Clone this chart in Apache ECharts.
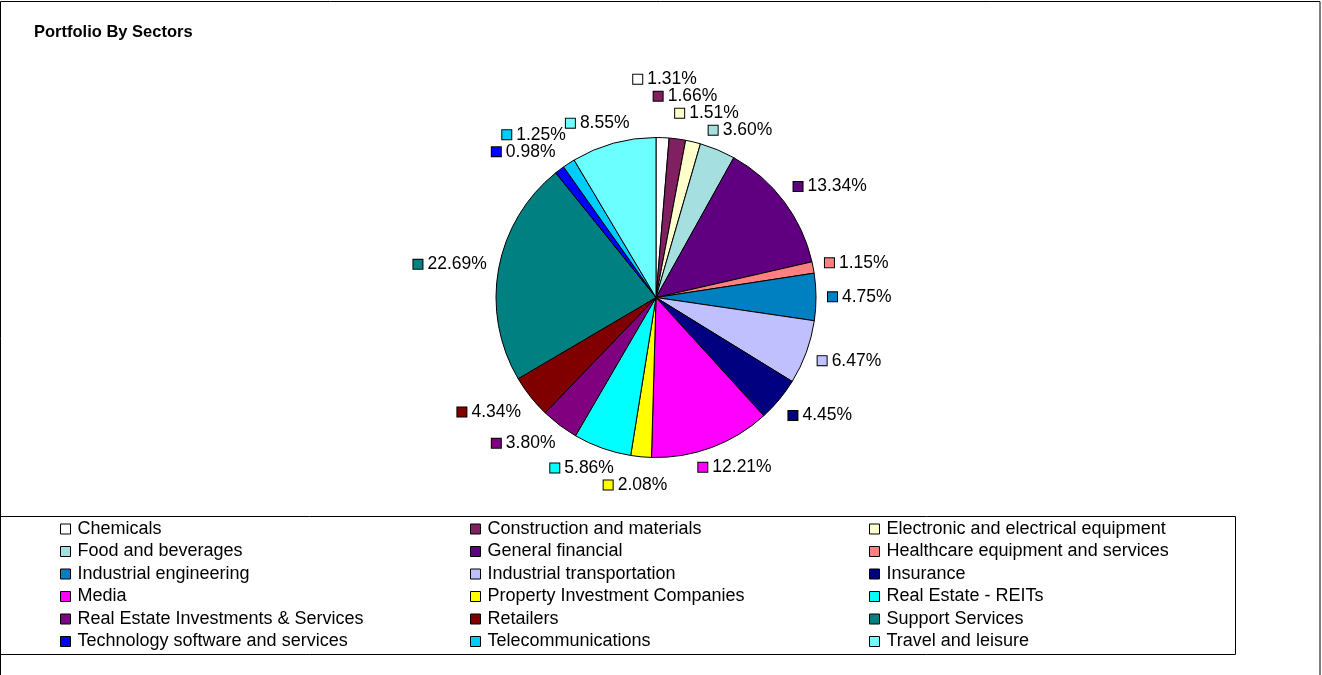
<!DOCTYPE html>
<html><head><meta charset="utf-8">
<script src="https://cdn.jsdelivr.net/npm/echarts@6/dist/echarts.min.js"></script>
<style>html,body{margin:0;padding:0;background:#fff}#c{width:1322px;height:675px}</style>
</head><body><div id="c"></div>
<script>
const chartTitle = 'Portfolio By Sectors';
const categories = [
  'Chemicals', 'Construction and materials', 'Electronic and electrical equipment',
  'Food and beverages', 'General financial', 'Healthcare equipment and services',
  'Industrial engineering', 'Industrial transportation', 'Insurance',
  'Media', 'Property Investment Companies', 'Real Estate - REITs',
  'Real Estate Investments & Services', 'Retailers', 'Support Services',
  'Technology software and services', 'Telecommunications', 'Travel and leisure'
];
const values = [1.31, 1.66, 1.51, 3.60, 13.34, 1.15, 4.75, 6.47, 4.45, 12.21, 2.08, 5.86, 3.80, 4.34, 22.69, 0.98, 1.25, 8.55];
const colors = [
  '#FFFFFF', '#802060', '#FFFFCC', '#A6DFDF', '#600080', '#FF8080',
  '#0080C0', '#C0C0FF', '#000080', '#FF00FF', '#FFFF00', '#00FFFF',
  '#800080', '#800000', '#008080', '#0000FF', '#00CCFF', '#6CFFFF'
];

const FONT = '"Liberation Sans", Arial, sans-serif';
const CX = 656, CY = 297.5, R = 160;
const LABEL_FONT = 17.5, BOX = 9, BOX_GAP = 5, LABEL_GAP = 12;
const labelText = v => v.toFixed(2) + '%';

// label placement (Excel-like "outside end" with simple overlap resolution)
const ctx = document.createElement('canvas').getContext('2d');
ctx.font = LABEL_FONT + 'px ' + FONT;
const total = values.reduce((a, b) => a + b, 0);
const clamp = t => Math.max(-1, Math.min(1, t));
let acc = 0;
const boxes = values.map(v => {
  const mid = (acc + v / 2) / total * 2 * Math.PI; acc += v;
  const dx = Math.sin(mid), dy = -Math.cos(mid);
  const w = BOX + BOX_GAP + ctx.measureText(labelText(v)).width;
  const h = 17;
  return { w, h,
    x: CX + (R + LABEL_GAP) * dx + clamp(1.5 * dx) * w / 2,
    y: CY + (R + LABEL_GAP) * dy + clamp(1.5 * dy) * h / 2 };
});
for (let iter = 0; iter < 60; iter++) {
  let moved = false;
  for (let i = 0; i < boxes.length; i++) for (let j = i + 1; j < boxes.length; j++) {
    const a = boxes[i], b = boxes[j];
    const ox = (a.w + b.w) / 2 - Math.abs(a.x - b.x);
    const oy = (a.h + b.h) / 2 - Math.abs(a.y - b.y);
    if (ox > 0.5 && oy > 0.5) {
      moved = true;
      if (ox < oy) {
        const m = Math.abs(a.x - CX) > Math.abs(b.x - CX) ? a : b;
        m.x += (m.x > CX ? 1 : -1) * ox;
      } else {
        const top = (a.y + b.y) / 2 < CY;
        const m = top ? (a.y < b.y ? a : b) : (a.y > b.y ? a : b);
        m.y += (top ? -1 : 1) * oy;
      }
    }
  }
  if (!moved) break;
}

const chart = echarts.init(document.getElementById('c'), null, { renderer: 'canvas' });
chart.setOption({
  animation: false,
  backgroundColor: '#fff',
  title: {
    text: chartTitle, left: 34, top: 24, padding: 0,
    textStyle: { fontSize: 16.5, fontWeight: 'bold', fontFamily: FONT, color: '#000' }
  },
  legend: [0, 1, 2].map(c => ({
    orient: 'vertical', left: [60, 470, 869][c], top: 518, padding: 0,
    itemGap: 0.5, itemWidth: 10, itemHeight: 10, icon: 'rect', selectedMode: false,
    data: categories.filter((_, i) => i % 3 === c),
    itemStyle: { borderColor: '#000', borderWidth: 1 },
    textStyle: { fontSize: 18, fontFamily: FONT, color: '#000', lineHeight: 22, padding: [0, 0, 0, 2] }
  })),
  graphic: [
    { type: 'rect', silent: true, z: 100, shape: { x: 0.5, y: 1.5, width: 1319.5, height: 700 },
      style: { fill: 'none', stroke: '#000', lineWidth: 1 } },
    { type: 'rect', silent: true, z: 100, shape: { x: 0.5, y: 516.5, width: 1235, height: 138 },
      style: { fill: 'none', stroke: '#000', lineWidth: 1 } }
  ],
  series: [{
    type: 'pie', center: [CX, CY], radius: R, startAngle: 90, clockwise: true,
    avoidLabelOverlap: false, silent: true,
    itemStyle: { borderColor: '#000', borderWidth: 1 },
    labelLine: { show: false },
    label: { show: true, position: 'outside', formatter: p => '{box|}{t|' + labelText(p.value) + '}' },
    data: categories.map((n, i) => ({
      name: n, value: values[i], itemStyle: { color: colors[i] },
      label: { rich: {
        box: { width: BOX, height: BOX, backgroundColor: colors[i], borderColor: '#000', borderWidth: 1 },
        t: { fontSize: LABEL_FONT, fontFamily: FONT, color: '#000', padding: [0, 0, 0, BOX_GAP] }
      } }
    })),
    labelLayout: p => ({ x: boxes[p.dataIndex].x, y: boxes[p.dataIndex].y, align: 'center', verticalAlign: 'middle' })
  }]
});
</script>
</body></html>
